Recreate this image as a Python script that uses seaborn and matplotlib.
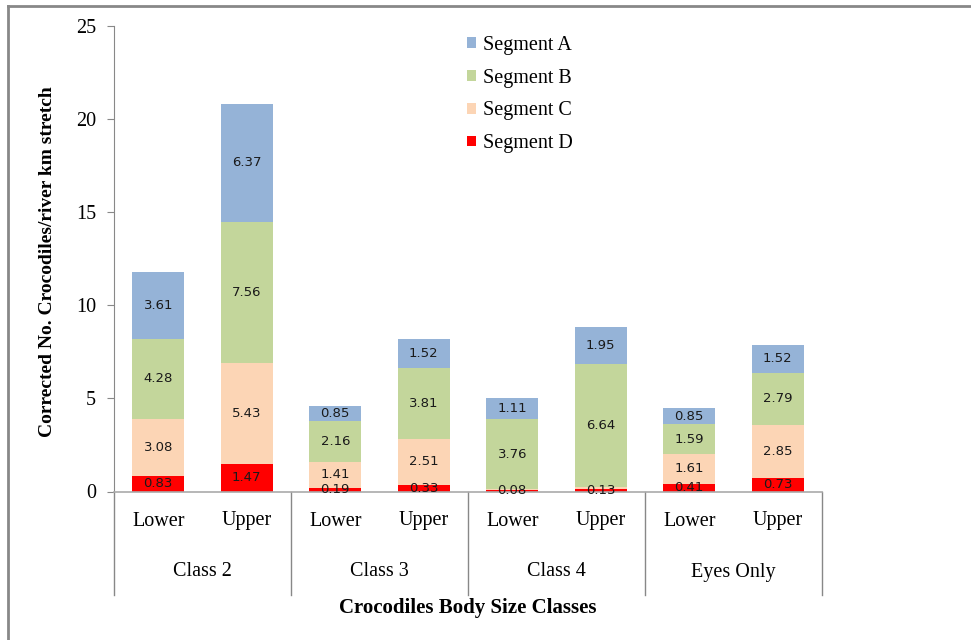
import numpy as np
import pandas as pd
import matplotlib
matplotlib.use("Agg")
import matplotlib.pyplot as plt
from matplotlib.lines import Line2D
from matplotlib.patches import Patch
import seaborn as sns

# ---- data ----
groups = ["Class 2", "Class 3", "Class 4", "Eyes Only"]
levels = ["Lower", "Upper"]
segment_names = ["Segment A", "Segment B", "Segment C", "Segment D"]
seg_d = [0.83, 1.47, 0.19, 0.33, 0.08, 0.13, 0.41, 0.73]
seg_c = [3.08, 5.43, 1.41, 2.51, 0.05, 0.10, 1.61, 2.85]
seg_b = [4.28, 7.56, 2.16, 3.81, 3.76, 6.64, 1.59, 2.79]
seg_a = [3.61, 6.37, 0.85, 1.52, 1.11, 1.95, 0.85, 1.52]
label_c = ["3.08", "5.43", "1.41", "2.51", "", "", "1.61", "2.85"]
colors = {"Segment A": "#95B3D7", "Segment B": "#C3D69B",
          "Segment C": "#FCD5B5", "Segment D": "#FF0000"}
y_ticks = [0, 5, 10, 15, 20, 25]

bars = [f"{g}|{l}" for g in groups for l in levels]
stack_order = ["Segment D", "Segment C", "Segment B", "Segment A"]
vals = {"Segment A": seg_a, "Segment B": seg_b, "Segment C": seg_c, "Segment D": seg_d}
labels = {"Segment A": [f"{v:.2f}" for v in seg_a],
          "Segment B": [f"{v:.2f}" for v in seg_b],
          "Segment C": label_c,
          "Segment D": [f"{v:.2f}" for v in seg_d]}

rows = []
bottom = np.zeros(len(bars))
for s in stack_order:
    v = np.array(vals[s])
    for i, b in enumerate(bars):
        rows.append({"bar": b, "segment": s, "value": v[i],
                     "bottom": bottom[i], "top": bottom[i] + v[i]})
    bottom = bottom + v
df = pd.DataFrame(rows)

# ---- figure ----
fig = plt.figure(figsize=(9.71, 6.40), dpi=100)
ax = fig.add_axes([114 / 971, 1 - 491.5 / 640, (822 - 114) / 971, (491.5 - 26) / 640])

serif = "Liberation Serif"
# draw from top of stack downward so lower segments overlay
for s in reversed(stack_order):
    sub = df[df["segment"] == s]
    sns.barplot(data=sub, x="bar", y="top", order=bars, color=colors[s],
                width=0.59, saturation=1, ax=ax, edgecolor="none", linewidth=0)

# data labels
for _, r in df.iterrows():
    i = bars.index(r["bar"])
    lab = labels[r["segment"]][i]
    if lab:
        ax.text(i, (r["bottom"] + r["top"]) / 2, lab, ha="center", va="center",
                fontsize=9.5, family="DejaVu Sans", color="#1a1a1a")

ax.set_xlim(-0.5, len(bars) - 0.5)
ax.set_ylim(0, 25)
ax.set_yticks(y_ticks)
ax.set_yticklabels([str(t) for t in y_ticks], family=serif, fontsize=14.5)
ax.tick_params(axis="y", length=5, color="#888888", pad=8)
ax.set_xticks([])
ax.set_xlabel("")
ax.set_ylabel("Corrected No. Crocodiles/river km stretch", family=serif,
              fontsize=14, fontweight="bold")
ax.yaxis.set_label_coords((56 - 114) / 708, (491.5 - 262) / 465.5)
for sp in ["top", "right"]:
    ax.spines[sp].set_visible(False)
ax.spines["left"].set_color("#888888")
ax.spines["bottom"].set_color("#aaaaaa")
ax.spines["bottom"].set_linewidth(1.2)

# multi-level x labels
trans = ax.get_xaxis_transform()
ppx = 1 / ((491.5 - 26))  # axes fraction per pixel
for i, b in enumerate(bars):
    ax.text(i, -(521 - 491.5) * ppx, b.split("|")[1], transform=trans,
            ha="center", va="center", family=serif, fontsize=14.5)
for gi, g in enumerate(groups):
    ax.text(gi * 2 + 0.5, -(572 - 491.5) * ppx, g, transform=trans,
            ha="center", va="center", family=serif, fontsize=14.5)
for k in range(len(groups) + 1):
    ax.add_line(Line2D([k * 2 - 0.5, k * 2 - 0.5], [0, -(595 - 491.5) * ppx],
                       transform=trans, color="#888888", lw=1, clip_on=False))
ax.text(3.5, -(608 - 491.5) * ppx, "Crocodiles Body Size Classes", transform=trans,
        ha="center", va="center", family=serif, fontsize=15, fontweight="bold")

# legend
handles = [Patch(facecolor=colors[s], edgecolor="none") for s in segment_names]
leg = ax.legend(handles, segment_names, loc="upper left",
                bbox_to_anchor=((459 - 114) / (822 - 114), 1 - (28 - 26) / 465.5),
                frameon=False, prop={"family": serif, "size": 14.5},
                handlelength=0.45, handleheight=0.45, handletextpad=0.35,
                labelspacing=0.68, borderaxespad=0)

# figure border (top and left visible)
fig.add_artist(Line2D([8 / 971, 1], [1 - 5.5 / 640, 1 - 5.5 / 640],
                      transform=fig.transFigure, color="#888888", lw=2))
fig.add_artist(Line2D([8 / 971, 8 / 971], [0, 1 - 5.5 / 640],
                      transform=fig.transFigure, color="#888888", lw=2))

fig.savefig("out.png", dpi=100)
